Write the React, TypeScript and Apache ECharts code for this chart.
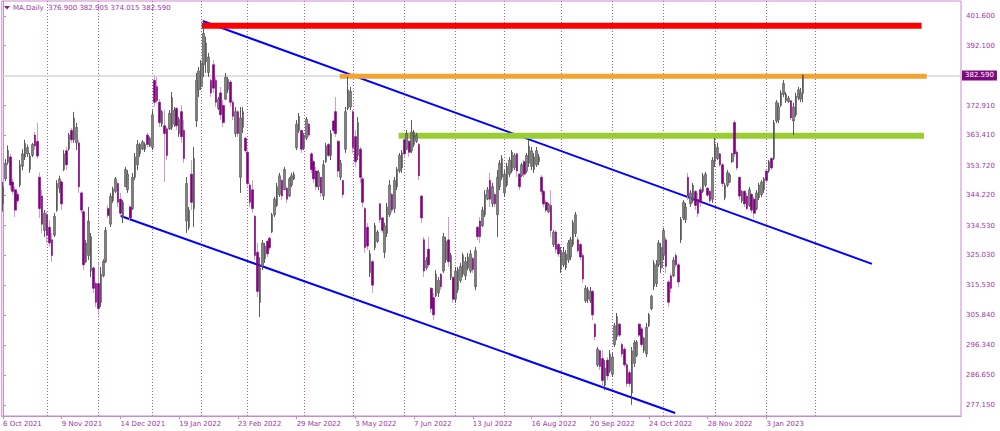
import React, { useEffect, useRef } from 'react';
import * as echarts from 'echarts';

// Daily bars of MA, one row per trading day: [open, high, low, close]
const ohlc: number[][] = [
  // 0 (6 Oct 2021)
  [341.5, 348.5, 339.0, 347.0], [349.5, 355.8, 348.8, 354.5], [354.8, 360.2, 354.0, 358.6], [356.5, 357.5, 346.0, 347.5],
  [348.5, 349.5, 344.5, 345.5], [346.0, 347.0, 337.3, 339.5], [344.5, 345.5, 341.8, 342.5], [347.5, 355.5, 346.9, 354.0],
  [353.5, 359.0, 352.3, 357.5], [356.5, 362.0, 355.5, 360.8],
  // 10
  [357.5, 360.5, 356.5, 359.5], [352.5, 357.8, 351.4, 356.8], [357.0, 361.0, 356.5, 360.5], [363.5, 364.5, 358.7, 360.0],
  [361.5, 367.4, 356.0, 356.8], [350.0, 351.5, 337.0, 340.0], [344.0, 346.0, 332.2, 335.0], [333.0, 339.5, 330.9, 338.5],
  [338.0, 339.0, 329.0, 331.5], [334.0, 336.3, 327.7, 329.0],
  // 20
  [330.0, 332.2, 322.9, 325.0], [331.5, 338.6, 330.9, 337.5], [339.5, 349.1, 339.0, 348.0], [346.5, 350.5, 345.0, 349.5],
  [348.5, 349.0, 339.5, 341.5], [352.5, 358.7, 352.0, 357.5], [358.5, 359.7, 352.3, 354.0], [359.0, 364.2, 358.5, 363.5],
  [365.0, 365.8, 361.0, 362.0], [362.0, 370.9, 361.0, 369.0],
  // 30
  [361.0, 367.4, 358.7, 366.0], [361.0, 362.0, 345.0, 347.0], [345.0, 345.5, 338.6, 339.5], [339.0, 339.5, 320.3, 322.0],
  [323.0, 329.9, 322.6, 329.0], [325.0, 340.5, 323.5, 336.0], [320.0, 332.2, 318.1, 331.0], [321.0, 321.5, 313.0, 314.5],
  [316.0, 316.5, 308.5, 310.0], [316.0, 322.6, 305.9, 308.0],
  // 40
  [310.0, 321.3, 308.5, 319.0], [318.5, 323.8, 318.0, 323.0], [323.0, 334.1, 322.6, 333.0], [340.0, 341.0, 337.0, 337.8],
  [335.0, 345.0, 334.1, 344.0], [342.5, 347.0, 341.8, 346.3], [345.5, 350.1, 345.0, 349.5], [348.0, 348.5, 340.5, 342.0],
  [343.0, 345.0, 337.3, 338.5], [337.0, 342.7, 335.4, 342.0],
  // 50
  [347.0, 353.3, 346.9, 352.5], [346.0, 352.3, 345.0, 351.0], [340.5, 341.0, 336.3, 337.0], [340.0, 351.4, 339.5, 350.0],
  [350.0, 357.8, 349.1, 356.5], [354.0, 361.9, 352.3, 360.5], [357.5, 361.0, 356.5, 360.5], [359.0, 361.9, 358.7, 361.3],
  [359.0, 361.2, 358.1, 360.5], [363.5, 364.2, 359.7, 360.5],
  // 60
  [360.0, 363.0, 359.7, 362.5], [359.5, 371.5, 358.7, 370.0], [381.0, 382.7, 372.5, 374.0], [379.0, 382.1, 373.8, 374.5],
  [374.0, 375.0, 366.1, 367.5], [367.0, 371.5, 366.1, 371.0], [366.5, 371.5, 348.5, 364.0], [365.5, 366.1, 355.5, 357.0],
  [365.5, 371.5, 365.1, 370.5], [366.0, 377.3, 365.1, 375.5],
  // 70
  [367.0, 372.5, 366.1, 371.5], [372.0, 372.5, 365.1, 366.5], [364.0, 369.3, 362.9, 368.5], [371.0, 373.1, 361.0, 363.0],
  [365.0, 368.3, 354.6, 356.0], [336.0, 350.1, 332.2, 348.0], [334.0, 340.5, 333.1, 339.5], [351.0, 355.5, 339.5, 342.0],
  [340.0, 359.7, 334.1, 356.0], [368.0, 383.4, 366.1, 381.0],
  // 80
  [378.0, 385.3, 375.7, 384.0], [379.0, 387.5, 377.9, 386.5], [386.0, 399.9, 382.1, 396.0], [387.0, 395.0, 383.4, 393.0],
  [383.5, 389.8, 382.1, 388.5], [381.0, 381.5, 375.7, 377.0], [386.0, 387.5, 377.0, 378.5], [381.0, 382.1, 372.5, 374.0],
  [372.0, 375.7, 371.5, 375.0], [377.0, 378.9, 368.3, 370.0],
  // 90
  [373.0, 374.7, 366.1, 367.5], [375.0, 383.4, 374.7, 382.0], [378.0, 382.1, 377.0, 381.3], [380.5, 381.1, 372.5, 374.0],
  [374.0, 374.7, 368.3, 369.5], [364.0, 372.5, 362.9, 371.0], [371.0, 371.5, 362.9, 364.0], [350.0, 372.5, 345.0, 369.0],
  [366.0, 372.5, 364.2, 371.0], [362.5, 363.0, 357.8, 358.5],
  // 100
  [358.0, 358.7, 346.9, 348.0], [347.5, 348.2, 340.5, 342.0], [346.0, 349.1, 338.6, 340.0], [337.5, 338.0, 323.5, 325.0],
  [326.0, 329.0, 311.7, 313.5], [310.0, 324.5, 305.3, 321.0], [321.5, 329.9, 320.3, 329.0], [324.0, 329.0, 322.6, 328.0],
  [329.5, 330.0, 324.5, 325.5], [330.5, 331.0, 326.7, 327.5],
  // 110
  [332.5, 338.6, 332.2, 338.0], [338.0, 343.7, 337.3, 343.0], [341.0, 348.2, 340.5, 347.0], [344.5, 351.4, 343.7, 350.5],
  [349.0, 349.5, 342.7, 344.0], [346.0, 353.3, 345.9, 352.5], [346.5, 347.0, 341.8, 343.0], [344.0, 350.1, 343.7, 349.5],
  [347.5, 351.4, 346.9, 350.5], [349.5, 351.8, 349.1, 351.0],
  // 120
  [359.5, 368.3, 358.7, 367.0], [365.0, 370.6, 364.2, 369.5], [365.0, 365.1, 357.8, 359.0], [359.5, 364.2, 358.7, 363.5],
  [362.5, 369.3, 361.9, 368.5], [367.0, 367.5, 362.9, 363.5], [357.5, 358.0, 351.4, 352.5], [355.0, 355.5, 348.2, 349.5],
  [352.0, 353.3, 345.9, 347.0], [347.0, 352.3, 345.9, 351.5],
  // 130
  [350.0, 350.1, 343.7, 345.0], [344.0, 355.5, 342.7, 354.0], [355.0, 361.0, 354.6, 360.0], [360.5, 361.0, 356.5, 357.0],
  [357.0, 365.1, 355.5, 364.0], [368.0, 368.3, 364.2, 365.0], [371.0, 375.7, 362.9, 364.0], [361.5, 361.9, 350.1, 352.0],
  [350.0, 355.5, 349.1, 354.5], [349.0, 349.1, 343.4, 344.5],
  // 140
  [359.0, 372.5, 357.8, 371.0], [372.0, 382.1, 371.5, 378.0], [372.5, 378.9, 371.5, 377.5], [371.0, 371.5, 357.8, 359.5],
  [363.0, 365.1, 353.3, 355.0], [357.0, 369.3, 355.5, 367.5], [359.0, 359.7, 348.2, 350.0], [349.5, 350.1, 340.5, 342.0],
  [340.0, 340.5, 325.8, 327.5], [334.0, 335.4, 326.7, 328.0],
  // 150
  [319.5, 326.7, 318.1, 325.5], [323.0, 323.5, 313.0, 315.5], [327.5, 335.4, 326.7, 334.5], [329.5, 333.1, 329.0, 332.5],
  [341.5, 341.8, 335.4, 336.5], [337.0, 337.3, 332.2, 333.0], [326.0, 335.4, 324.2, 334.5], [332.0, 341.8, 330.9, 340.5],
  [338.0, 349.1, 337.3, 347.5], [344.5, 345.0, 338.6, 339.5],
  // 160
  [340.0, 350.1, 338.6, 349.0], [347.0, 353.3, 345.9, 352.5], [352.0, 357.8, 351.4, 357.0], [353.0, 358.7, 351.4, 357.8],
  [362.0, 362.9, 356.5, 357.5], [359.0, 365.1, 358.7, 364.0], [361.5, 361.9, 356.5, 358.0], [358.5, 368.3, 357.8, 364.5],
  [360.5, 365.1, 359.7, 364.5], [361.5, 364.2, 361.0, 363.5],
  // 170
  [360.5, 361.0, 349.1, 350.5], [344.0, 344.3, 335.4, 337.0], [330.0, 330.9, 318.1, 320.0], [321.0, 324.5, 320.3, 323.5],
  [327.0, 330.9, 321.3, 322.0], [314.5, 314.9, 306.6, 308.0], [311.5, 313.0, 304.3, 306.0], [312.0, 320.3, 311.7, 319.0],
  [313.0, 318.1, 311.7, 317.0], [319.0, 319.4, 313.9, 315.0],
  // 180
  [320.0, 332.2, 319.4, 331.0], [323.5, 330.9, 322.6, 329.5], [330.0, 337.3, 321.3, 323.0], [318.0, 325.8, 317.1, 325.0],
  [318.0, 318.1, 309.8, 311.0], [311.0, 321.3, 309.8, 320.0], [314.0, 321.3, 313.0, 320.5], [317.0, 322.6, 316.2, 321.5],
  [319.0, 325.8, 318.1, 325.0], [318.5, 324.5, 317.1, 323.0],
  // 190
  [321.0, 325.8, 320.3, 324.5], [320.0, 326.7, 319.4, 325.5], [324.0, 324.5, 319.4, 320.5], [315.0, 327.7, 313.9, 326.5],
  [334.0, 334.5, 329.9, 331.0], [336.0, 337.3, 329.0, 331.0], [334.5, 340.5, 334.1, 339.5], [338.0, 345.9, 337.3, 344.5],
  [343.0, 346.9, 342.7, 346.0], [349.0, 351.4, 340.5, 343.0],
  // 200
  [341.5, 348.2, 340.5, 347.0], [344.5, 345.0, 340.5, 341.5], [338.0, 352.3, 330.9, 350.0], [347.0, 355.5, 345.9, 354.5],
  [350.0, 357.1, 349.1, 356.0], [345.0, 352.3, 343.7, 351.0], [347.5, 354.6, 346.9, 353.5], [351.0, 356.5, 350.1, 355.5],
  [352.0, 358.7, 351.4, 358.0], [353.0, 357.8, 352.3, 357.0],
  // 210
  [357.5, 357.8, 350.1, 352.0], [351.0, 351.4, 345.9, 347.0], [350.5, 354.6, 350.1, 354.0], [355.0, 355.5, 350.1, 351.0],
  [352.0, 357.8, 351.4, 357.0], [354.5, 361.9, 353.3, 360.0], [353.5, 359.7, 352.3, 358.5], [352.5, 357.8, 351.4, 356.5],
  [354.0, 359.7, 353.3, 358.5], [355.0, 357.5, 353.9, 356.5],
  // 220
  [350.0, 350.7, 344.3, 345.5], [345.5, 345.9, 340.5, 341.5], [342.0, 342.7, 338.6, 339.5], [339.0, 341.8, 338.6, 341.3],
  [341.0, 345.9, 330.9, 333.0], [328.5, 333.1, 327.7, 332.5], [332.5, 333.1, 325.8, 327.0], [328.5, 329.0, 324.5, 325.5],
  [320.5, 327.7, 319.4, 326.5], [322.0, 327.7, 321.3, 326.0],
  // 230
  [321.0, 326.7, 320.3, 325.5], [323.5, 329.9, 322.6, 329.0], [324.5, 330.9, 323.5, 330.0], [328.5, 336.3, 327.7, 335.5],
  [332.0, 338.9, 330.9, 338.0], [330.0, 331.0, 325.8, 326.5], [328.5, 329.0, 323.5, 324.5], [325.0, 325.8, 316.2, 317.5],
  [310.5, 315.5, 309.8, 314.5], [311.0, 314.9, 309.8, 314.0],
  // 240
  [310.5, 314.9, 309.8, 313.5], [313.5, 313.9, 304.3, 306.0], [303.0, 303.4, 297.9, 299.0], [290.0, 295.7, 289.3, 295.0],
  [294.5, 294.7, 288.3, 289.5], [292.0, 294.7, 283.0, 285.0], [283.5, 291.5, 281.9, 289.0], [291.5, 292.5, 285.1, 286.5],
  [288.0, 294.7, 287.4, 293.5], [287.0, 293.8, 286.1, 292.5],
  // 250
  [296.5, 303.4, 295.7, 302.5], [299.0, 306.6, 297.9, 305.5], [303.0, 303.4, 298.9, 299.5], [296.5, 297.0, 292.5, 293.5],
  [295.0, 295.7, 289.3, 290.0], [290.0, 290.6, 282.9, 284.0], [287.5, 288.3, 282.9, 284.0], [281.0, 295.7, 277.2, 294.5],
  [290.5, 297.9, 289.3, 297.0], [293.0, 297.9, 292.5, 297.3],
  // 260
  [303.0, 303.4, 298.9, 299.5], [301.5, 302.1, 295.7, 296.5], [294.5, 298.9, 293.8, 298.5], [293.5, 303.4, 292.5, 302.0],
  [302.5, 306.6, 302.1, 306.0], [308.0, 312.4, 307.5, 312.0], [315.0, 323.5, 313.9, 322.5], [316.0, 323.5, 314.9, 322.0],
  [322.0, 329.9, 321.3, 329.0], [321.0, 329.0, 319.4, 327.5],
  // 270
  [325.0, 333.8, 323.5, 333.0], [330.0, 330.9, 319.4, 321.5], [316.5, 317.1, 308.5, 310.0], [318.5, 319.4, 313.0, 314.5],
  [318.5, 324.5, 318.1, 323.5], [325.0, 325.8, 321.3, 322.0], [322.0, 322.6, 314.9, 316.5], [330.0, 337.3, 329.0, 336.5],
  [337.0, 342.7, 336.3, 342.0], [336.5, 341.8, 335.4, 340.5],
  // 280
  [350.0, 351.4, 342.7, 344.0], [341.5, 345.9, 340.5, 345.0], [342.5, 348.2, 341.8, 347.5], [345.5, 345.9, 339.5, 341.0],
  [343.0, 345.0, 337.3, 338.5], [346.0, 346.9, 340.5, 342.0], [345.5, 351.4, 345.0, 350.5], [347.5, 351.7, 346.9, 351.0],
  [346.5, 346.9, 343.7, 344.3], [345.5, 345.9, 341.8, 342.5],
  // 290
  [343.0, 356.5, 341.8, 355.5], [355.0, 362.6, 353.3, 360.5], [356.0, 361.0, 355.5, 359.5], [357.5, 357.8, 353.3, 354.0],
  [354.0, 354.6, 346.9, 348.0], [343.5, 348.2, 342.7, 347.5], [347.5, 352.3, 346.9, 351.5], [348.5, 351.4, 348.2, 350.8],
  [355.0, 357.8, 354.6, 357.5], [367.5, 368.3, 356.5, 357.5],
  // 300
  [358.0, 358.7, 352.3, 353.0], [350.0, 350.1, 342.7, 344.0], [342.5, 345.9, 341.8, 345.5], [345.5, 345.9, 340.5, 341.5],
  [344.0, 345.0, 339.5, 340.0], [341.0, 346.9, 340.5, 346.0], [344.5, 345.0, 338.6, 339.5], [343.0, 343.7, 337.0, 338.5],
  [340.0, 345.9, 339.5, 345.0], [343.5, 348.2, 342.7, 347.5],
  // 310
  [344.5, 349.1, 343.7, 348.5], [346.0, 350.1, 345.0, 349.5], [352.0, 352.3, 348.2, 349.0], [352.0, 355.5, 351.4, 355.0],
  [356.0, 356.5, 352.3, 353.0], [356.0, 368.3, 355.5, 367.5], [368.0, 374.7, 367.4, 374.0], [368.5, 373.8, 367.4, 372.5],
  [373.0, 377.9, 372.5, 377.0], [376.5, 381.1, 375.7, 380.0],
  // 320
  [374.5, 377.3, 373.8, 376.5], [374.2, 376.0, 373.8, 375.3], [374.5, 374.7, 368.3, 369.0], [368.0, 373.8, 363.5, 372.5],
  [370.0, 377.0, 369.3, 376.0], [375.5, 378.9, 374.7, 378.0], [375.0, 378.6, 374.1, 377.0], [376.9, 382.905, 374.015, 382.59],
];

const symbolName = 'MA,Daily';
const tickLabels = [
  '6 Oct 2021', '9 Nov 2021', '14 Dec 2021', '19 Jan 2022', '23 Feb 2022', '29 Mar 2022', '3 May 2022',
  '7 Jun 2022', '13 Jul 2022', '16 Aug 2022', '20 Sep 2022', '24 Oct 2022', '28 Nov 2022', '3 Jan 2023',
];
const barsPerLabel = 24;
// bar index of the first trading day of each month (Nov 2021 .. Feb 2023)
const monthStarts = [18, 39, 61, 81, 100, 123, 143, 164, 185, 205, 228, 249, 270, 291, 312, 332];
const priceTicks = [401.6, 392.1, 372.91, 363.41, 353.72, 344.22, 334.53, 325.03, 315.53, 305.84, 296.34, 286.65, 277.15];
const slotCount = 392; // visible bar slots, including the empty space on the right
const priceMin = 273.63;
const priceMax = 406.4;
// channel lines: [barIndex, price] end points
const upperChannel = [[81.6, 400.0], [355.1, 322.3]];
const lowerChannel = [[48.1, 337.6], [274.7, 274.6]];
// horizontal levels: [fromBar, toBar, price]
const resistanceTop = [81.2, 375.4, 398.5];
const resistanceMid = [137.6, 377.5, 382.3];
const supportLevel = [161.7, 376.4, 363.3];

const TEXT = '#a0369f';
const AXIS = '#c68ccb';
const FONT = 'DejaVu Sans';

export default function App() {
  const ref = useRef<HTMLDivElement>(null);
  useEffect(() => {
    if (!ref.current) return;
    const chart = echarts.init(ref.current, undefined, { renderer: 'svg' });
    const last = ohlc[ohlc.length - 1];
    const lastClose = last[3];
    const categories = Array.from({ length: slotCount }, (_, i) => String(i));
    const showTick = (i: number) => i % barsPerLabel === 0 && i / barsPerLabel < tickLabels.length;

    const wickData = ohlc.map(([o, h, l, c]) => [o, c, l, h]);
    const bodyData = ohlc.map(([o, , , c]) => [o, c, Math.min(o, c), Math.max(o, c)]);

    const levelSeries = (lv: number[], color: string, width: number) => ({
      type: 'line',
      xAxisIndex: 1,
      data: [[lv[0], lv[2]], [lv[1], lv[2]]],
      symbol: 'none',
      silent: true,
      z: 3,
      lineStyle: { color, width, cap: 'butt' },
    });

    chart.setOption({
      animation: false,
      backgroundColor: '#ffffff',
      title: {
        text: `${symbolName}  ${last[0].toFixed(3)} ${last[1].toFixed(3)} ${last[2].toFixed(3)} ${last[3].toFixed(3)}`,
        left: 13,
        top: 4,
        padding: 0,
        textStyle: { fontSize: 7, fontWeight: 'normal', color: TEXT, fontFamily: FONT },
      },
      graphic: [
        { type: 'polygon', shape: { points: [[4, 6], [10, 6], [7, 9.5]] }, style: { fill: '#8a1f8a' } },
      ],
      grid: { left: 1, top: 1, right: 39, bottom: 15, show: true, borderColor: AXIS, borderWidth: 1 },
      xAxis: [
        {
          type: 'category',
          data: categories,
          boundaryGap: true,
          axisLine: { show: true, lineStyle: { color: AXIS } },
          axisTick: { show: true, alignWithLabel: true, interval: (i: number) => showTick(i), length: 3, lineStyle: { color: AXIS } },
          axisLabel: {
            interval: (i: number) => showTick(i),
            formatter: (v: string) => tickLabels[Number(v) / barsPerLabel] ?? '',
            align: 'left',
            margin: 4,
            color: TEXT,
            fontSize: 7,
            fontFamily: FONT,
          },
          splitLine: { show: false },
        },
        { type: 'value', show: false, min: -0.5, max: slotCount - 0.5 },
      ],
      yAxis: {
        type: 'value',
        position: 'right',
        min: priceMin,
        max: priceMax,
        axisLine: { show: true, lineStyle: { color: AXIS } },
        axisTick: { show: true, customValues: priceTicks, length: 3, lineStyle: { color: AXIS } },
        axisLabel: {
          customValues: priceTicks,
          formatter: (v: number) => v.toFixed(3),
          margin: 5,
          color: TEXT,
          fontSize: 7,
          fontFamily: FONT,
        },
        splitLine: { show: false },
      },
      series: [
        {
          type: 'line',
          xAxisIndex: 1,
          data: upperChannel,
          symbol: 'none',
          silent: true,
          z: 2,
          lineStyle: { color: '#0000ff', width: 2 },
          markLine: {
            silent: true,
            z: 1,
            symbol: ['none', 'none'],
            label: { show: false },
            lineStyle: { color: '#c04fc0', type: [1, 2], width: 1 },
            data: monthStarts.map((m) => ({ xAxis: m })),
          },
        },
        {
          type: 'line',
          xAxisIndex: 1,
          data: lowerChannel,
          symbol: 'none',
          silent: true,
          z: 2,
          lineStyle: { color: '#0000ff', width: 2 },
          markLine: {
            silent: true,
            z: 1,
            symbol: ['none', 'none'],
            lineStyle: { color: '#d6d6d6', type: 'solid', width: 1.5 },
            label: {
              show: true,
              position: 'end',
              distance: 1,
              formatter: () => lastClose.toFixed(3),
              backgroundColor: '#7d0a7d',
              color: '#ffffff',
              padding: [2, 3, 1, 3],
              fontSize: 7,
              fontFamily: FONT,
            },
            data: [{ yAxis: lastClose }],
          },
        },
        levelSeries(resistanceTop, '#ff0000', 6),
        levelSeries(resistanceMid, '#f2a430', 5),
        levelSeries(supportLevel, '#9acd32', 6),
        {
          type: 'candlestick',
          data: wickData,
          barWidth: 0.6,
          z: 10,
          silent: true,
          itemStyle: {
            color: '#4a4a4a',
            color0: '#cf8fcf',
            borderColor: '#4a4a4a',
            borderColor0: '#cf8fcf',
            borderWidth: 0.9,
          },
        },
        {
          type: 'candlestick',
          data: bodyData,
          barWidth: 2.1,
          z: 11,
          silent: true,
          itemStyle: {
            color: '#808080',
            color0: '#800080',
            borderColor: '#4f4f4f',
            borderColor0: '#800080',
            borderWidth: 0.6,
          },
        },
      ],
    });
    return () => chart.dispose();
  }, []);
  return <div ref={ref} style={{ position: 'fixed', left: 0, top: 0, width: 1000, height: 431 }} />;
}
